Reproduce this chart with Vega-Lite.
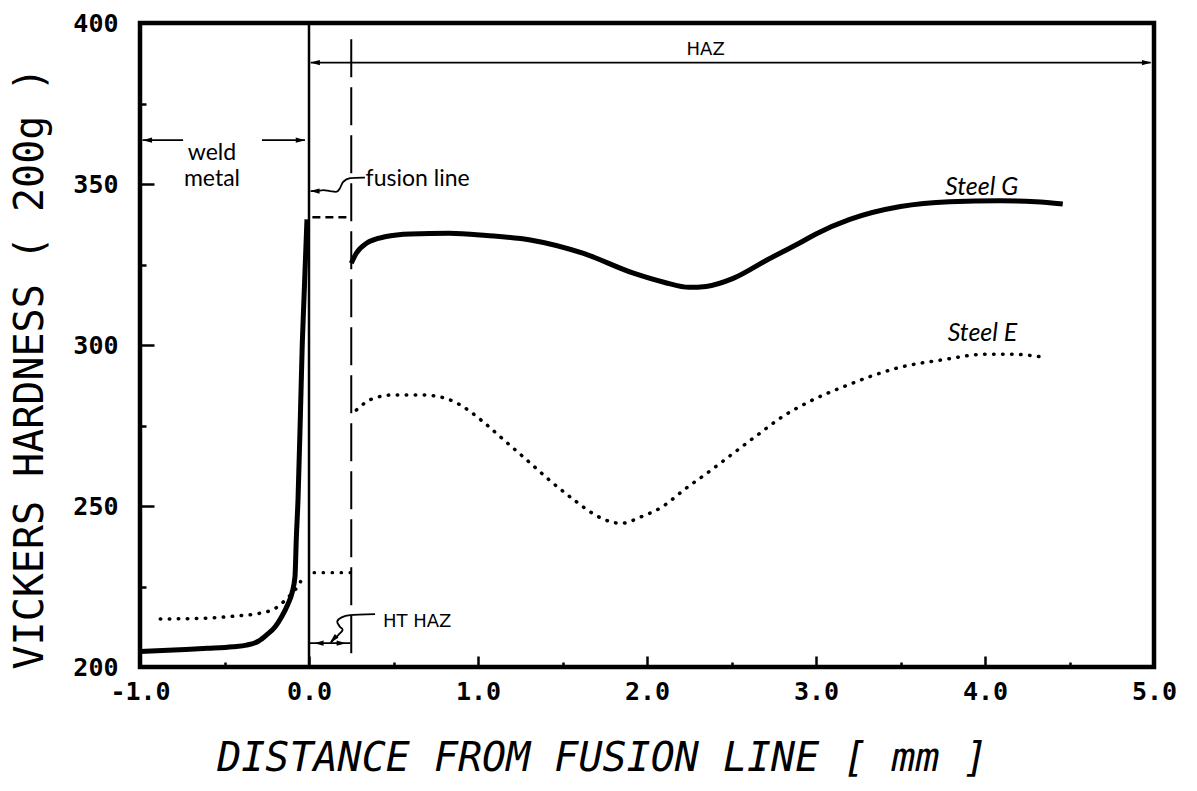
{
  "$schema": "https://vega.github.io/schema/vega-lite/v6.json",
  "width": 1014,
  "height": 644,
  "autosize": {"type": "none"},
  "padding": {"left": 140, "top": 23, "right": 43, "bottom": 124},
  "background": "white",
  "config": {
    "view": {"stroke": "black", "strokeWidth": 4.5},
    "axis": {"grid": false, "domain": false}
  },
  "datasets": {
    "curves": [
      {"series": "G", "seg": "Gw", "x": -1.0, "y": 204.8},
      {"series": "G", "seg": "Gw", "x": -0.8, "y": 205.3},
      {"series": "G", "seg": "Gw", "x": -0.6, "y": 205.8},
      {"series": "G", "seg": "Gw", "x": -0.45, "y": 206.3},
      {"series": "G", "seg": "Gw", "x": -0.37, "y": 206.8},
      {"series": "G", "seg": "Gw", "x": -0.3, "y": 208.0},
      {"series": "G", "seg": "Gw", "x": -0.25, "y": 210.0},
      {"series": "G", "seg": "Gw", "x": -0.2, "y": 212.5},
      {"series": "G", "seg": "Gw", "x": -0.162, "y": 215.6},
      {"series": "G", "seg": "Gw", "x": -0.125, "y": 219.5},
      {"series": "G", "seg": "Gw", "x": -0.1, "y": 223.1},
      {"series": "G", "seg": "Gw", "x": -0.083, "y": 228},
      {"series": "G", "seg": "Gw", "x": -0.075, "y": 240},
      {"series": "G", "seg": "Gw", "x": -0.065, "y": 252},
      {"series": "G", "seg": "Gw", "x": -0.05, "y": 280},
      {"series": "G", "seg": "Gw", "x": -0.04, "y": 300},
      {"series": "G", "seg": "Gw", "x": -0.03, "y": 314},
      {"series": "G", "seg": "Gw", "x": -0.02, "y": 328},
      {"series": "G", "seg": "Gw", "x": -0.012, "y": 339},
      {"series": "G", "seg": "Gh", "x": 0.25, "y": 325.4},
      {"series": "G", "seg": "Gh", "x": 0.28, "y": 328.5},
      {"series": "G", "seg": "Gh", "x": 0.34, "y": 331.6},
      {"series": "G", "seg": "Gh", "x": 0.45, "y": 333.6},
      {"series": "G", "seg": "Gh", "x": 0.6, "y": 334.5},
      {"series": "G", "seg": "Gh", "x": 0.83, "y": 334.7},
      {"series": "G", "seg": "Gh", "x": 1.05, "y": 334.0},
      {"series": "G", "seg": "Gh", "x": 1.31, "y": 332.6},
      {"series": "G", "seg": "Gh", "x": 1.62, "y": 328.5},
      {"series": "G", "seg": "Gh", "x": 1.92, "y": 322.3},
      {"series": "G", "seg": "Gh", "x": 2.1, "y": 319.5},
      {"series": "G", "seg": "Gh", "x": 2.25, "y": 317.9},
      {"series": "G", "seg": "Gh", "x": 2.35, "y": 318.2},
      {"series": "G", "seg": "Gh", "x": 2.51, "y": 320.7},
      {"series": "G", "seg": "Gh", "x": 2.71, "y": 326.4},
      {"series": "G", "seg": "Gh", "x": 2.9, "y": 331.6},
      {"series": "G", "seg": "Gh", "x": 3.0, "y": 334.5},
      {"series": "G", "seg": "Gh", "x": 3.2, "y": 339.0},
      {"series": "G", "seg": "Gh", "x": 3.5, "y": 343.0},
      {"series": "G", "seg": "Gh", "x": 3.79, "y": 344.5},
      {"series": "G", "seg": "Gh", "x": 4.09, "y": 344.8},
      {"series": "G", "seg": "Gh", "x": 4.3, "y": 344.5},
      {"series": "G", "seg": "Gh", "x": 4.46, "y": 343.8},
      {"series": "E", "seg": "Ew", "x": -0.88, "y": 214.9},
      {"series": "E", "seg": "Ew", "x": -0.6, "y": 215.2},
      {"series": "E", "seg": "Ew", "x": -0.4, "y": 216.0},
      {"series": "E", "seg": "Ew", "x": -0.31, "y": 216.5},
      {"series": "E", "seg": "Ew", "x": -0.2, "y": 218.2},
      {"series": "E", "seg": "Ew", "x": -0.14, "y": 220.8},
      {"series": "E", "seg": "Ew", "x": -0.1, "y": 222.9},
      {"series": "E", "seg": "Ew", "x": -0.07, "y": 224.8},
      {"series": "E", "seg": "Ew", "x": -0.05, "y": 226.5},
      {"series": "E", "seg": "Eh", "x": 0.28, "y": 279.8},
      {"series": "E", "seg": "Eh", "x": 0.33, "y": 282.0},
      {"series": "E", "seg": "Eh", "x": 0.38, "y": 283.4},
      {"series": "E", "seg": "Eh", "x": 0.5, "y": 284.5},
      {"series": "E", "seg": "Eh", "x": 0.67, "y": 284.5},
      {"series": "E", "seg": "Eh", "x": 0.81, "y": 283.4},
      {"series": "E", "seg": "Eh", "x": 0.877, "y": 281.9},
      {"series": "E", "seg": "Eh", "x": 0.95, "y": 279.5},
      {"series": "E", "seg": "Eh", "x": 1.025, "y": 276.4},
      {"series": "E", "seg": "Eh", "x": 1.16, "y": 270.2},
      {"series": "E", "seg": "Eh", "x": 1.293, "y": 264.1},
      {"series": "E", "seg": "Eh", "x": 1.426, "y": 257.9},
      {"series": "E", "seg": "Eh", "x": 1.568, "y": 251.9},
      {"series": "E", "seg": "Eh", "x": 1.672, "y": 247.9},
      {"series": "E", "seg": "Eh", "x": 1.785, "y": 245.1},
      {"series": "E", "seg": "Eh", "x": 1.846, "y": 244.6},
      {"series": "E", "seg": "Eh", "x": 1.968, "y": 246.7},
      {"series": "E", "seg": "Eh", "x": 2.086, "y": 249.6},
      {"series": "E", "seg": "Eh", "x": 2.228, "y": 255.4},
      {"series": "E", "seg": "Eh", "x": 2.376, "y": 261.0},
      {"series": "E", "seg": "Eh", "x": 2.516, "y": 266.6},
      {"series": "E", "seg": "Eh", "x": 2.66, "y": 272.3},
      {"series": "E", "seg": "Eh", "x": 2.806, "y": 277.9},
      {"series": "E", "seg": "Eh", "x": 2.96, "y": 282.4},
      {"series": "E", "seg": "Eh", "x": 3.18, "y": 287.4},
      {"series": "E", "seg": "Eh", "x": 3.477, "y": 292.8},
      {"series": "E", "seg": "Eh", "x": 3.773, "y": 295.6},
      {"series": "E", "seg": "Eh", "x": 3.99, "y": 297.1},
      {"series": "E", "seg": "Eh", "x": 4.168, "y": 297.1},
      {"series": "E", "seg": "Eh", "x": 4.346, "y": 296.2}
    ],
    "arrows": [
      {"id": "haz", "x": 0.01, "x2": 4.98, "y": 387.7},
      {"id": "weldL", "x": -0.985, "x2": -0.745, "y": 363.6},
      {"id": "weldR", "x": -0.278, "x2": -0.024, "y": 363.6},
      {"id": "htl", "x": 0.0, "x2": 0.245, "y": 207.4}
    ],
    "heads": [
      {"x": 0.008, "y": 387.7, "angle": 0},
      {"x": 4.985, "y": 387.7, "angle": 180},
      {"x": -0.985, "y": 363.6, "angle": 0},
      {"x": -0.022, "y": 363.6, "angle": 180},
      {"x": 0.03, "y": 207.4, "angle": 0},
      {"x": 0.22, "y": 207.4, "angle": 180},
      {"x": 0.006, "y": 347.8, "angle": 0},
      {"x": 0.124, "y": 207.6, "angle": -45}
    ],
    "leaders": [
      {"id": "f", "i": 0, "x": 0.331, "y": 352.0},
      {"id": "f", "i": 1, "x": 0.243, "y": 351.8},
      {"id": "f", "i": 2, "x": 0.203, "y": 350.7},
      {"id": "f", "i": 3, "x": 0.183, "y": 348.7},
      {"id": "f", "i": 4, "x": 0.164, "y": 347.6},
      {"id": "f", "i": 5, "x": 0.124, "y": 347.8},
      {"id": "f", "i": 6, "x": 0.085, "y": 348.1},
      {"id": "f", "i": 7, "x": 0.046, "y": 347.8},
      {"id": "f", "i": 8, "x": 0.01, "y": 347.8},
      {"id": "h", "i": 0, "x": 0.391, "y": 216.4},
      {"id": "h", "i": 1, "x": 0.243, "y": 216.1},
      {"id": "h", "i": 2, "x": 0.193, "y": 215.4},
      {"id": "h", "i": 3, "x": 0.167, "y": 214.1},
      {"id": "h", "i": 4, "x": 0.183, "y": 212.5},
      {"id": "h", "i": 5, "x": 0.199, "y": 211.5},
      {"id": "h", "i": 6, "x": 0.173, "y": 209.9},
      {"id": "h", "i": 7, "x": 0.144, "y": 208.4},
      {"id": "h", "i": 8, "x": 0.13, "y": 207.6}
    ]
  },
  "encoding": {
    "x": {
      "field": "x", "type": "quantitative",
      "scale": {"domain": [-1, 5], "nice": false, "zero": false},
      "axis": {
        "values": [-1, -0.5, 0, 0.5, 1, 1.5, 2, 2.5, 3, 3.5, 4, 4.5, 5],
        "labelExpr": "datum.value % 1 === 0 ? (datum.value < 0 ? '-' : '') + format(abs(datum.value), '.1f') : ''",
        "tickSize": {"condition": {"test": "datum.value % 1 === 0", "value": -11}, "value": -5},
        "tickWidth": 2.5, "tickColor": "black",
        "labelFont": "DejaVu Sans Mono", "labelFontSize": 25, "labelFontWeight": "bold", "labelColor": "black",
        "labelPadding": 23, "labelFlush": false, "labelOverlap": false,
        "title": "DISTANCE FROM FUSION LINE [ mm ]",
        "titleFont": "DejaVu Sans Mono", "titleFontSize": 40, "titleFontWeight": "normal", "titleFontStyle": "italic",
        "titleColor": "black", "titleX": 462, "titleY": 91, "titleAlign": "center", "titleBaseline": "middle"
      }
    },
    "y": {
      "field": "y", "type": "quantitative",
      "scale": {"domain": [200, 400], "nice": false, "zero": false},
      "axis": {
        "values": [200, 225, 250, 275, 300, 325, 350, 375, 400],
        "labelExpr": "datum.value % 50 === 0 ? format(datum.value, 'd') : ''",
        "tickSize": {"condition": {"test": "datum.value % 50 === 0", "value": -14}, "value": -6},
        "tickWidth": 2.5, "tickColor": "black",
        "labelFont": "DejaVu Sans Mono", "labelFontSize": 25, "labelFontWeight": "bold", "labelColor": "black",
        "labelPadding": 36, "labelFlush": false, "labelOverlap": false,
        "title": "VICKERS HARDNESS ( 200g )",
        "titleFont": "DejaVu Sans Mono", "titleFontSize": 40, "titleFontWeight": "normal",
        "titleColor": "black", "titleX": -110, "titleY": 345, "titleAngle": 270, "titleAlign": "center", "titleBaseline": "middle"
      }
    }
  },
  "layer": [
    {
      "data": {"values": [{"x": 0, "y": 200, "y2": 400}]},
      "mark": {"type": "rule", "color": "black", "strokeWidth": 2.5},
      "encoding": {"y2": {"field": "y2"}}
    },
    {
      "data": {"values": [{"x": 0.25, "y": 204.3, "y2": 396.9}]},
      "mark": {"type": "rule", "color": "black", "strokeWidth": 2, "strokeDash": [38, 10]},
      "encoding": {"y2": {"field": "y2"}}
    },
    {
      "data": {"values": [{"x": 0.02, "x2": 0.24, "y": 339.7}]},
      "mark": {"type": "rule", "color": "black", "strokeWidth": 2.5, "strokeDash": [8, 5]},
      "encoding": {"x2": {"field": "x2"}}
    },
    {
      "data": {"values": [{"x": 0.03, "x2": 0.28, "y": 229.3}]},
      "mark": {"type": "rule", "color": "black", "strokeWidth": 3.2, "strokeDash": [0.5, 8.5], "strokeCap": "round"},
      "encoding": {"x2": {"field": "x2"}}
    },
    {
      "data": {"name": "curves"},
      "transform": [{"filter": "datum.series === 'G'"}],
      "mark": {"type": "line", "color": "black", "strokeWidth": 5, "interpolate": "monotone"},
      "encoding": {"detail": {"field": "seg"}}
    },
    {
      "data": {"name": "curves"},
      "transform": [{"filter": "datum.series === 'E'"}],
      "mark": {"type": "line", "color": "black", "strokeWidth": 3.5, "strokeDash": [0.5, 8.5], "strokeCap": "round", "interpolate": "monotone"},
      "encoding": {"detail": {"field": "seg"}}
    },
    {
      "data": {"name": "arrows"},
      "mark": {"type": "rule", "color": "black", "strokeWidth": 1.8},
      "encoding": {"x2": {"field": "x2"}}
    },
    {
      "data": {"name": "leaders"},
      "mark": {"type": "line", "color": "black", "strokeWidth": 1.8, "interpolate": "cardinal"},
      "encoding": {"detail": {"field": "id"}, "order": {"field": "i"}}
    },
    {
      "data": {"name": "heads"},
      "mark": {"type": "point", "shape": "M0,0L2.2,-0.6L2.2,0.6Z", "filled": true, "color": "black", "opacity": 1, "size": 75},
      "encoding": {"angle": {"field": "angle", "type": "quantitative", "scale": null}}
    },
    {
      "data": {"values": [
        {"x": -0.574, "y": 359.5, "t": "weld"},
        {"x": -0.574, "y": 351.6, "t": "metal"}
      ]},
      "mark": {"type": "text", "font": "Lato", "fontSize": 23, "align": "center", "baseline": "middle", "color": "black"},
      "encoding": {"text": {"field": "t"}}
    },
    {
      "data": {"values": [{"x": 0.335, "y": 351.5, "t": "fusion line"}]},
      "mark": {"type": "text", "font": "Lato", "fontSize": 23, "align": "left", "baseline": "middle", "color": "black"},
      "encoding": {"text": {"field": "t"}}
    },
    {
      "data": {"values": [
        {"x": 2.234, "y": 391.6, "t": "HAZ", "a": "center"},
        {"x": 0.438, "y": 214.1, "t": "HT HAZ", "a": "left"}
      ]},
      "mark": {"type": "text", "font": "DejaVu Sans", "fontSize": 18, "align": "left", "baseline": "middle", "color": "black", "letterSpacing": 5},
      "encoding": {"text": {"field": "t"}, "align": {"field": "a", "type": "nominal", "scale": null}}
    },
    {
      "data": {"values": [
        {"x": 3.98, "y": 349.2, "t": "Steel G"},
        {"x": 3.985, "y": 303.8, "t": "Steel E"}
      ]},
      "mark": {"type": "text", "font": "Lato", "fontSize": 25, "fontStyle": "italic", "align": "center", "baseline": "middle", "color": "black"},
      "encoding": {"text": {"field": "t"}}
    }
  ]
}
